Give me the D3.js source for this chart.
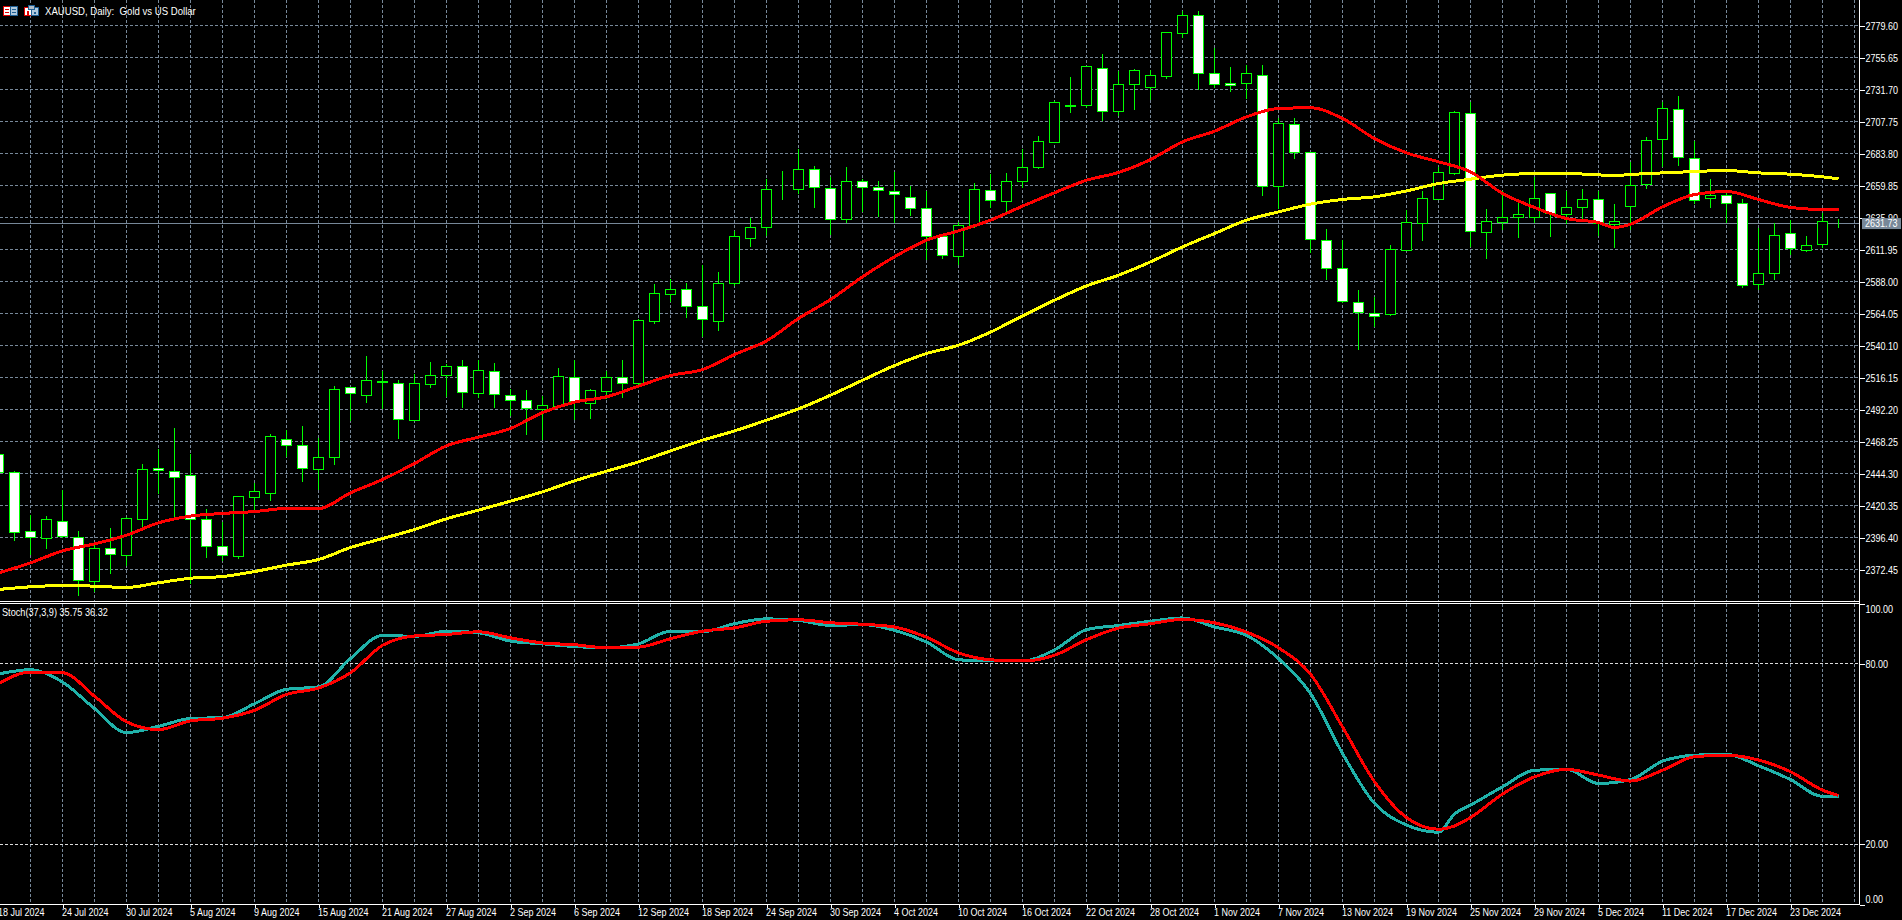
<!DOCTYPE html>
<html>
<head>
<meta charset="utf-8">
<title>XAUUSD Daily</title>
<script src="https://cdnjs.cloudflare.com/ajax/libs/d3/7.8.5/d3.min.js"></script>
<style>
  html, body { margin: 0; padding: 0; background: #000; overflow: hidden; }
  text { font-family: "Liberation Sans", sans-serif; font-size: 11px; fill: #fff; white-space: pre; }
</style>
</head>
<body>
<div id="viz"></div>
<script>
const width = 1902;
const height = 920;

// one bar per trading day, 18 Jul 2024 is bar 0
const open = [
  2458.5, 2445.0, 2400.9, 2395.6, 2408.4, 2396.1, 2363.4, 2388.2, 2382.9, 2409.6,
  2448.0, 2445.8, 2442.8, 2409.9, 2389.4, 2382.2, 2426.3, 2429.3, 2469.5, 2465.2,
  2447.3, 2456.3, 2508.4, 2502.7, 2513.2, 2511.7, 2483.9, 2510.9, 2517.6, 2524.4,
  2504.2, 2520.6, 2502.7, 2498.9, 2492.2, 2494.4, 2516.1, 2496.7, 2505.7, 2516.1,
  2511.7, 2557.8, 2578.0, 2582.0, 2569.3, 2557.8, 2586.2, 2619.9, 2628.4, 2656.8,
  2656.6, 2671.8, 2657.6, 2634.1, 2662.6, 2658.3, 2655.4, 2650.6, 2642.6, 2621.7,
  2606.4, 2629.7, 2655.8, 2647.9, 2662.6, 2673.1, 2691.8, 2719.0, 2719.5, 2747.4,
  2715.2, 2735.2, 2732.9, 2741.2, 2773.4, 2787.1, 2743.7, 2736.2, 2735.9, 2742.2,
  2659.1, 2705.5, 2684.5, 2618.7, 2597.7, 2572.3, 2563.8, 2563.3, 2610.9, 2631.1,
  2649.1, 2668.6, 2713.7, 2624.7, 2631.9, 2636.1, 2636.1, 2653.8, 2638.1, 2643.4,
  2649.4, 2630.9, 2643.9, 2660.3, 2694.3, 2716.7, 2680.0, 2649.9, 2652.3, 2646.4,
  2585.7, 2594.0, 2623.9, 2611.2, 2615.7, 2631.73
];
const high = [
  2459.0, 2445.8, 2413.1, 2412.3, 2432.3, 2401.1, 2390.6, 2403.4, 2411.9, 2451.5,
  2462.5, 2478.2, 2458.8, 2418.1, 2408.1, 2427.8, 2437.1, 2473.7, 2477.2, 2479.7,
  2471.2, 2509.6, 2509.2, 2532.1, 2520.9, 2514.6, 2519.1, 2527.6, 2525.9, 2528.9,
  2529.6, 2526.9, 2507.4, 2506.7, 2502.4, 2523.6, 2529.6, 2507.7, 2521.1, 2529.1,
  2560.3, 2586.0, 2589.5, 2587.0, 2600.7, 2595.0, 2625.6, 2635.9, 2664.6, 2670.6,
  2686.8, 2674.3, 2666.3, 2673.6, 2664.6, 2663.1, 2670.3, 2659.6, 2655.6, 2622.7,
  2632.6, 2661.6, 2668.8, 2669.3, 2686.8, 2696.8, 2723.0, 2740.9, 2749.2, 2758.6,
  2745.4, 2747.4, 2746.2, 2774.6, 2790.3, 2790.3, 2763.1, 2748.4, 2749.9, 2749.9,
  2710.7, 2710.2, 2684.6, 2627.2, 2619.4, 2581.5, 2576.5, 2615.2, 2641.4, 2655.6,
  2673.8, 2715.5, 2722.5, 2642.1, 2655.6, 2647.6, 2666.1, 2653.8, 2655.6, 2657.1,
  2655.4, 2645.9, 2677.6, 2695.8, 2722.5, 2726.7, 2693.0, 2664.6, 2656.1, 2649.9,
  2628.4, 2632.1, 2633.9, 2622.0, 2638.9, 2634.6
];
const low = [
  2444.0, 2393.9, 2383.2, 2387.9, 2396.4, 2352.7, 2355.4, 2368.9, 2375.2, 2404.4,
  2429.0, 2410.6, 2361.95, 2381.2, 2378.9, 2380.4, 2416.9, 2423.6, 2456.3, 2438.0,
  2431.8, 2450.5, 2483.7, 2497.2, 2492.7, 2470.2, 2483.7, 2508.2, 2501.2, 2493.4,
  2500.9, 2493.4, 2487.7, 2473.0, 2469.5, 2493.7, 2484.2, 2485.2, 2499.7, 2500.9,
  2510.9, 2556.1, 2572.8, 2560.8, 2546.1, 2550.8, 2584.7, 2613.7, 2622.2, 2648.9,
  2653.6, 2643.1, 2622.7, 2631.9, 2640.1, 2636.4, 2631.9, 2636.9, 2603.9, 2605.0,
  2600.2, 2628.2, 2642.9, 2640.1, 2658.1, 2672.1, 2691.5, 2714.2, 2717.5, 2708.0,
  2712.0, 2716.2, 2723.7, 2739.4, 2770.4, 2731.7, 2732.9, 2729.7, 2724.5, 2652.1,
  2642.6, 2679.8, 2609.0, 2589.0, 2572.0, 2536.9, 2554.1, 2562.3, 2610.6, 2618.4,
  2648.9, 2667.6, 2613.9, 2605.0, 2626.4, 2620.7, 2631.9, 2621.4, 2630.9, 2632.6,
  2622.2, 2612.9, 2626.9, 2657.3, 2673.8, 2674.6, 2645.9, 2642.9, 2631.9, 2583.5,
  2582.0, 2589.0, 2607.7, 2610.4, 2613.4, 2627.9
];
const close = [
  2444.8, 2400.1, 2396.4, 2409.9, 2397.1, 2364.2, 2388.2, 2383.7, 2410.6, 2447.3,
  2446.3, 2441.3, 2409.9, 2389.4, 2382.9, 2427.1, 2430.6, 2472.0, 2465.2, 2448.0,
  2456.3, 2507.2, 2504.2, 2513.9, 2512.4, 2484.7, 2511.7, 2517.6, 2524.4, 2504.9,
  2521.4, 2503.4, 2498.9, 2492.9, 2495.2, 2516.9, 2498.2, 2506.4, 2516.1, 2511.7,
  2558.8, 2579.0, 2582.0, 2569.0, 2559.6, 2586.5, 2621.6, 2628.4, 2656.8, 2656.8,
  2671.8, 2658.3, 2634.1, 2662.8, 2658.3, 2656.1, 2653.1, 2642.6, 2621.7, 2607.2,
  2629.9, 2656.8, 2648.6, 2662.8, 2673.3, 2692.8, 2722.0, 2719.4, 2748.9, 2715.2,
  2735.4, 2745.9, 2742.2, 2774.4, 2787.1, 2743.4, 2735.2, 2734.4, 2743.7, 2658.8,
  2706.2, 2684.3, 2619.4, 2597.7, 2573.0, 2564.5, 2561.8, 2611.9, 2632.1, 2650.1,
  2669.6, 2714.5, 2625.4, 2632.9, 2635.9, 2638.1, 2650.1, 2638.9, 2643.4, 2649.4,
  2631.4, 2632.9, 2659.8, 2693.5, 2717.5, 2680.8, 2648.6, 2652.1, 2646.4, 2584.9,
  2594.0, 2622.4, 2612.7, 2614.9, 2632.9, 2631.73
];

// moving averages
const maBars = [
  0, 2, 4, 6, 8, 10, 12, 14, 16, 18, 20, 22, 24, 26, 28, 30, 32, 34, 36, 38,
  40, 42, 44, 46, 48, 50, 52, 54, 56, 58, 60, 62, 64, 66, 68, 70, 72, 74, 76, 78,
  80, 82, 84, 86, 88, 90, 92, 94, 96, 98, 100, 101, 102, 104, 106, 108, 110, 112, 114, 115
];
const maFast = [
  2369.9, 2377.4, 2386.4, 2391.6, 2398.1, 2407.4, 2412.4, 2414.4, 2415.8, 2418.1,
  2418.1, 2429.8, 2439.8, 2451.8, 2465.0, 2471.5, 2478.0, 2489.9, 2497.7, 2501.7,
  2509.7, 2517.6, 2522.1, 2533.4, 2543.6, 2560.3, 2574.5, 2591.5, 2606.5, 2618.9,
  2625.9, 2633.9, 2644.4, 2654.4, 2663.8, 2669.6, 2679.3, 2692.5, 2700.5, 2711.2,
  2717.5, 2718.0, 2710.0, 2695.0, 2684.3, 2677.6, 2670.1, 2653.9, 2643.4, 2635.1,
  2632.1, 2628.4, 2630.9, 2643.9, 2653.1, 2655.4, 2649.4, 2643.4, 2641.9, 2641.9
];
const maSlow = [
  2357.5, 2359.5, 2360.5, 2360.0, 2359.0, 2362.5, 2365.9, 2367.2, 2370.9, 2375.7,
  2379.9, 2388.9, 2395.6, 2402.4, 2410.4, 2416.9, 2423.6, 2430.6, 2438.8, 2446.0,
  2453.0, 2461.2, 2469.2, 2476.2, 2484.2, 2492.7, 2502.9, 2514.1, 2525.1, 2534.1,
  2540.3, 2550.1, 2562.3, 2574.0, 2584.7, 2592.7, 2602.7, 2613.9, 2623.9, 2633.9,
  2640.1, 2645.9, 2649.4, 2651.4, 2655.8, 2661.3, 2664.6, 2667.6, 2668.8, 2668.8,
  2667.8, 2667.3, 2668.1, 2669.3, 2670.3, 2671.1, 2669.3, 2668.3, 2666.3, 2664.8
];

// stochastic panel
const stochBars = [
  0, 2, 4, 6, 8, 10, 12, 14, 16, 18, 20, 22, 24, 26, 28, 30, 32, 34, 36, 38,
  40, 42, 44, 46, 48, 50, 52, 54, 56, 58, 60, 62, 64, 66, 68, 70, 72, 74, 76, 78,
  80, 82, 84, 86, 88, 90, 91, 92, 94, 96, 98, 100, 102, 104, 106, 108, 110, 112, 114, 115
];
const stochMain = [
  76.6, 78.0, 73.9, 65.1, 57.1, 59.2, 61.8, 62.1, 66.7, 71.5,
  72.3, 81.7, 89.4, 89.1, 90.8, 90.3, 87.5, 86.6, 85.7, 85.3,
  86.6, 90.8, 90.6, 93.3, 94.9, 94.4, 92.7, 93.0, 91.1, 87.2,
  81.3, 80.9, 80.9, 84.6, 91.3, 92.7, 94.1, 95.2, 92.2, 89.4,
  81.7, 70.1, 50.2, 33.6, 26.4, 24.0, 30.1, 33.0, 39.1, 44.6,
  44.9, 40.2, 41.5, 47.6, 49.6, 49.9, 46.1, 41.5, 35.9, 35.9
];
const stochSignal = [
  73.4, 77.2, 77.0, 69.2, 60.7, 58.1, 61.0, 61.9, 64.5, 69.8,
  71.9, 77.0, 86.1, 89.2, 89.7, 90.6, 88.6, 86.9, 86.3, 85.3,
  85.5, 88.3, 90.8, 91.9, 94.1, 94.6, 93.6, 93.1, 92.2, 88.8,
  83.6, 81.3, 80.9, 82.8, 88.0, 91.8, 93.3, 94.7, 93.6, 90.5,
  85.3, 76.5, 59.0, 40.8, 28.9, 25.0, 26.1, 28.9, 36.7, 42.4,
  44.9, 43.0, 41.0, 44.6, 49.1, 49.6, 48.0, 44.1, 38.0, 36.2
];

const priceTicks = [
  2779.60, 2755.65, 2731.70, 2707.75, 2683.80, 2659.85, 2635.90, 2611.95, 2588.00,
  2564.05, 2540.10, 2516.15, 2492.20, 2468.25, 2444.30, 2420.35, 2396.40, 2372.45
];
const stochTicks = [100, 80, 20, 0];
const stochLevels = [80, 20];
const lastPrice = 2631.73;

// one label every fourth bar
const dateLabels = [
  '18 Jul 2024', '24 Jul 2024', '30 Jul 2024', '5 Aug 2024', '9 Aug 2024', '15 Aug 2024',
  '21 Aug 2024', '27 Aug 2024', '2 Sep 2024', '6 Sep 2024', '12 Sep 2024', '18 Sep 2024',
  '24 Sep 2024', '30 Sep 2024', '4 Oct 2024', '10 Oct 2024', '16 Oct 2024', '22 Oct 2024',
  '28 Oct 2024', '1 Nov 2024', '7 Nov 2024', '13 Nov 2024', '19 Nov 2024', '25 Nov 2024',
  '29 Nov 2024', '5 Dec 2024', '11 Dec 2024', '17 Dec 2024', '23 Dec 2024'
];

const chartTitle = 'XAUUSD, Daily:  Gold vs US Dollar';
const stochTitle = 'Stoch(37,3,9) 35.75 36.32';

const axisX = 1859.5;
const mainBottom = 601;
const subTop = 604;
const subBottom = 904.5;
const gridColor = '#778899';
const textSqueeze = 0.82;

const svg = d3.select('#viz')
  .append('svg')
  .attr('width', width)
  .attr('height', height)
  .style('display', 'block')
  .style('background', '#000');

const xscale = d3.scaleLinear().domain([0, 115]).range([-1.5, 1838.5]);
const yscale = d3.scaleLinear().domain([2372.45, 2779.6]).range([569.5, 25.5]);
const stochScale = d3.scaleLinear().domain([0, 100]).range([subBottom, 603.5]);

// the terminal font is narrower than anything installed, so squeeze the text sideways
const squeeze = (sel, k) => sel.each(function () {
  const x = +this.getAttribute('x') || 0;
  const before = this.getAttribute('transform') || '';
  d3.select(this)
    .attr('x', 0)
    .attr('transform', `${before} translate(${x}, 0) scale(${k}, 1)`);
});

// grid
const grid = svg.append('g')
  .attr('stroke', gridColor)
  .attr('stroke-dasharray', '3,2')
  .attr('shape-rendering', 'crispEdges');

grid.selectAll('.h')
  .data(priceTicks)
  .join('line')
  .attr('x1', 0)
  .attr('x2', axisX)
  .attr('y1', d => yscale(d))
  .attr('y2', d => yscale(d));

grid.selectAll('.v1')
  .data(d3.range(2, 117, 2))
  .join('line')
  .attr('x1', d => xscale(d))
  .attr('x2', d => xscale(d))
  .attr('y1', 0)
  .attr('y2', mainBottom);

const gridSub = svg.append('g')
  .attr('stroke', gridColor)
  .attr('stroke-dasharray', '3,2')
  .attr('shape-rendering', 'crispEdges');

gridSub.selectAll('line')
  .data(d3.range(2, 117, 2))
  .join('line')
  .attr('x1', d => xscale(d))
  .attr('x2', d => xscale(d))
  .attr('y1', subTop)
  .attr('y2', subBottom);

svg.append('g')
  .attr('stroke', '#dcdcdc')
  .attr('stroke-dasharray', '3,2')
  .attr('shape-rendering', 'crispEdges')
  .selectAll('line')
  .data(stochLevels)
  .join('line')
  .attr('x1', 0)
  .attr('x2', axisX)
  .attr('y1', d => stochScale(d))
  .attr('y2', d => stochScale(d));

// current price line
svg.append('line')
  .attr('x1', 0)
  .attr('x2', axisX)
  .attr('y1', yscale(lastPrice))
  .attr('y2', yscale(lastPrice))
  .attr('stroke', gridColor)
  .attr('shape-rendering', 'crispEdges');

// candles
const candles = svg.append('g')
  .attr('shape-rendering', 'crispEdges')
  .selectAll('g')
  .data(d3.range(open.length))
  .join('g');

candles.append('line')
  .attr('x1', i => xscale(i))
  .attr('x2', i => xscale(i))
  .attr('y1', i => yscale(high[i]))
  .attr('y2', i => yscale(low[i]))
  .attr('stroke', '#00ff00');

candles.append('rect')
  .attr('x', i => xscale(i) - 5)
  .attr('width', 10)
  .attr('y', i => yscale(Math.max(open[i], close[i])))
  .attr('height', i => Math.abs(yscale(open[i]) - yscale(close[i])))
  .attr('fill', i => close[i] >= open[i] ? '#000' : '#fff')
  .attr('stroke', '#00ff00');

// moving averages
const maLine = values => d3.line()
  .x((d, i) => xscale(d))
  .y((d, i) => yscale(values[i]))
  .curve(d3.curveMonotoneX)(maBars);

svg.append('path')
  .attr('d', maLine(maSlow))
  .attr('fill', 'none')
  .attr('stroke', '#ffff00')
  .attr('stroke-width', 3)
  .attr('shape-rendering', 'crispEdges');

svg.append('path')
  .attr('d', maLine(maFast))
  .attr('fill', 'none')
  .attr('stroke', '#ff0000')
  .attr('stroke-width', 3)
  .attr('shape-rendering', 'crispEdges');

// stochastic
const stochLine = values => d3.line()
  .x((d, i) => xscale(d))
  .y((d, i) => stochScale(values[i]))
  .curve(d3.curveMonotoneX)(stochBars);

svg.append('path')
  .attr('d', stochLine(stochMain))
  .attr('fill', 'none')
  .attr('stroke', '#20b2aa')
  .attr('stroke-width', 3)
  .attr('shape-rendering', 'crispEdges');

svg.append('path')
  .attr('d', stochLine(stochSignal))
  .attr('fill', 'none')
  .attr('stroke', '#ff0000')
  .attr('stroke-width', 3)
  .attr('shape-rendering', 'crispEdges');

// frame: double line between the panels, axis lines
const frame = svg.append('g')
  .attr('stroke', '#fff')
  .attr('shape-rendering', 'crispEdges');

frame.append('line').attr('x1', 0).attr('x2', axisX + 0.5).attr('y1', 601.5).attr('y2', 601.5);
frame.append('line').attr('x1', 0).attr('x2', axisX + 0.5).attr('y1', 603.5).attr('y2', 603.5);
frame.append('line').attr('x1', axisX).attr('x2', axisX).attr('y1', 0).attr('y2', subBottom);
frame.append('line').attr('x1', 0).attr('x2', axisX + 0.5).attr('y1', subBottom).attr('y2', subBottom);

// price axis
const priceAxis = d3.axisRight(yscale)
  .tickValues(priceTicks)
  .tickFormat(d3.format('.2f'))
  .tickSize(5)
  .tickPadding(1);

const priceG = svg.append('g')
  .attr('transform', `translate(${axisX}, 0)`)
  .call(priceAxis);

// stochastic axis
const stochAxis = d3.axisRight(stochScale)
  .tickValues(stochTicks)
  .tickFormat(d3.format('.2f'))
  .tickSize(5)
  .tickPadding(1);

const stochG = svg.append('g')
  .attr('transform', `translate(${axisX}, 0)`)
  .call(stochAxis);

// 100 and 0 sit inside the panel
stochG.selectAll('.tick text')
  .attr('transform', d => d === 100 ? 'translate(0,5)' : d === 0 ? 'translate(0,-6)' : null);

// time axis
const timeAxis = d3.axisBottom(xscale)
  .tickValues(dateLabels.map((d, i) => i * 4))
  .tickFormat(d => dateLabels[d / 4])
  .tickSize(3)
  .tickPadding(1);

const timeG = svg.append('g')
  .attr('transform', `translate(0, ${subBottom})`)
  .call(timeAxis);

timeG.selectAll('.tick text')
  .attr('text-anchor', 'start')
  .attr('x', -1);

[priceG, stochG, timeG].forEach(g => {
  g.select('.domain').remove();
  g.selectAll('.tick line').attr('stroke', '#fff').attr('shape-rendering', 'crispEdges');
  g.selectAll('.tick text').attr('fill', '#fff');
  g.attr('font-family', null).attr('font-size', null);
  squeeze(g.selectAll('.tick text'), textSqueeze);
});

// current price tag
const tag = svg.append('g')
  .attr('transform', `translate(1862, ${yscale(lastPrice)})`);

tag.append('rect')
  .attr('x', 0)
  .attr('y', -5)
  .attr('width', 39)
  .attr('height', 11)
  .attr('fill', gridColor);

tag.append('text')
  .attr('x', 3)
  .attr('dy', '0.36em')
  .text(d3.format('.2f')(lastPrice))
  .call(squeeze, textSqueeze);

// small icons left of the title
const icons = svg.append('g').attr('shape-rendering', 'crispEdges');
icons.append('rect').attr('x', 3.5).attr('y', 6.5).attr('width', 14).attr('height', 9).attr('fill', '#fff').attr('stroke', '#e00000');
icons.append('rect').attr('x', 10.5).attr('y', 6.5).attr('width', 7).attr('height', 9).attr('fill', '#b0c8dc').attr('stroke', '#1f5f94');
icons.append('rect').attr('x', 5).attr('y', 9).attr('width', 4).attr('height', 1).attr('fill', '#e00000');
icons.append('rect').attr('x', 5).attr('y', 12).attr('width', 4).attr('height', 1).attr('fill', '#e00000');
icons.append('rect').attr('x', 12).attr('y', 9).attr('width', 4).attr('height', 1).attr('fill', '#1f5f94');
icons.append('rect').attr('x', 12).attr('y', 12).attr('width', 4).attr('height', 1).attr('fill', '#1f5f94');
icons.append('rect').attr('x', 24.5).attr('y', 7.5).attr('width', 7).attr('height', 8).attr('fill', '#fff').attr('stroke', '#e00000');
icons.append('rect').attr('x', 31.5).attr('y', 7.5).attr('width', 7).attr('height', 8).attr('fill', '#b0c8dc').attr('stroke', '#1f5f94');
icons.append('rect').attr('x', 28.5).attr('y', 5.5).attr('width', 6).attr('height', 4).attr('fill', '#b0bcc8').attr('stroke', '#1f5f94');
icons.append('rect').attr('x', 27).attr('y', 11).attr('width', 2).attr('height', 4).attr('fill', '#e00000');
icons.append('rect').attr('x', 34).attr('y', 12).attr('width', 2).attr('height', 2).attr('fill', '#1f5f94');

const titleText = svg.append('text')
  .attr('x', 45)
  .attr('y', 14.5)
  .text(chartTitle);
titleText.attr('y', 0).attr('x', 0)
  .attr('transform', `translate(45, 14.5) scale(${151 / titleText.node().getComputedTextLength()}, 1)`);

const stochText = svg.append('text')
  .attr('x', 2)
  .attr('y', 616)
  .text(stochTitle);
stochText.attr('y', 0).attr('x', 0)
  .attr('transform', `translate(2, 616) scale(${106 / stochText.node().getComputedTextLength()}, 1)`);
</script>
</body>
</html>
